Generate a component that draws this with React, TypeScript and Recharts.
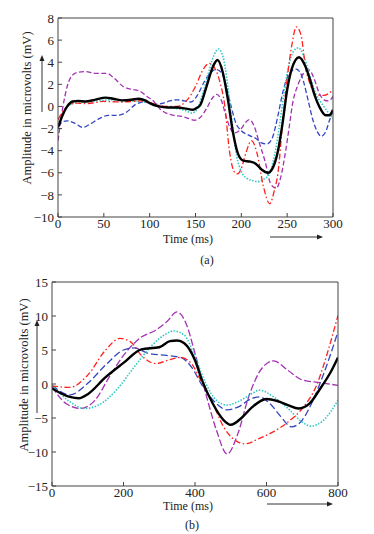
import { Line, LineChart, XAxis, YAxis } from "recharts";

// ---- panel (a): 0-300 ms ----
const aTicksX = [0, 50, 100, 150, 200, 250, 300];
const aTicksY = [-10, -8, -6, -4, -2, 0, 2, 4, 6, 8];

const aBlackT = [0, 5, 10, 16, 22, 30, 40, 52, 60, 70, 80, 88, 95, 100, 110, 120, 130, 140, 147, 150, 155, 162, 169, 174, 180, 185, 191, 196, 202, 210, 216, 222, 229, 234, 240, 245, 250, 255, 263, 270, 275, 280, 285, 292, 296, 300];
const aBlackV = [-1.9, -0.8, 0, 0.45, 0.5, 0.45, 0.6, 0.8, 0.7, 0.55, 0.6, 0.7, 0.55, 0.3, 0, -0.1, -0.1, -0.2, -0.3, -0.2, 0.1, 1.8, 3.6, 4.2, 3.0, 0.8, -2.4, -4.2, -4.9, -5.0, -5.2, -5.7, -6.0, -5.6, -4.0, -1.5, 1.5, 3.4, 4.45, 3.6, 2.4, 1.0, 0, -0.8, -0.8, -0.3];

const aRedT = [0, 5, 10, 20, 30, 50, 70, 90, 100, 110, 120, 130, 140, 150, 158, 165, 170, 176, 182, 187, 193, 196, 200, 205, 211, 217, 224, 231, 236, 240, 245, 250, 255, 260, 265, 270, 276, 282, 290, 300];
const aRedV = [-1.2, -0.5, 0, 0.3, 0.25, 0.45, 0.4, 0.5, 0.35, 0.1, 0, 0, 0.5, 1.8, 3.3, 3.9, 3.6, 2.4, 0, -4.0, -6.0, -6.1, -5.6, -4.2, -3.1, -4.2, -7.2, -8.8, -7.6, -6.0, -1.5, 2.5, 5.5, 7.2, 6.5, 3.6, 1.8, 1.05, 1.0, 1.5];

const aCyanT = [0, 5, 10, 20, 40, 60, 80, 100, 110, 120, 130, 140, 146, 152, 158, 164, 170, 175, 180, 185, 190, 195, 200, 206, 212, 218, 224, 230, 236, 242, 247, 252, 257, 262, 268, 274, 280, 290, 300];
const aCyanV = [-2, -0.8, 0, 0.35, 0.5, 0.6, 0.5, 0.3, 0, -0.1, -0.2, -0.4, -0.6, -0.2, 1.2, 3.0, 4.6, 5.2, 4.5, 2.0, -1.5, -4.5, -5.9, -6.5, -6.7, -6.8, -6.6, -6.2, -4.5, -1.5, 1.5, 3.8, 5.0, 5.3, 4.6, 3.0, 1.4, 0, -1.1];

const aBlueT = [0, 5, 10, 18, 27, 35, 45, 55, 65, 75, 85, 95, 105, 115, 122, 130, 138, 145, 152, 160, 166, 172, 178, 183, 188, 194, 200, 208, 216, 222, 228, 234, 240, 245, 250, 255, 259, 264, 268, 273, 278, 283, 287, 292, 296, 300];
const aBlueV = [-1.8, -1.4, -1.3, -1.5, -1.9, -1.6, -1.1, -0.8, -0.8, -0.5, 0.2, 0.4, 0.2, 0.3, 0.5, 0.6, 0.5, 0.4, 1.0, 2.3, 3.0, 3.35, 3.1, 2.0, 0.3, -1.5, -2.2, -2.6, -2.9, -3.3, -3.4, -2.8, -0.8, 1.2, 2.6, 3.2, 3.4, 3.1, 2.2, 0.5, -1.2, -2.3, -2.7, -2.3, -1.3, -0.4];

const aPurpleT = [0, 5, 10, 16, 22, 30, 40, 53, 62, 71, 80, 89, 97, 104, 111, 118, 126, 135, 143, 149, 155, 162, 168, 173, 178, 183, 188, 192, 200, 205, 209, 214, 220, 226, 232, 238, 243, 248, 252, 256, 262, 268, 274, 279, 285, 290, 295, 300];
const aPurpleV = [-3.1, -0.2, 1.8, 2.85, 3.1, 3.15, 3.0, 3.0, 2.5, 1.8, 1.55, 1.4, 0.9, 0.5, -0.2, -0.6, -0.8, -0.9, -1.1, -1.25, -1.0, -0.2, 0.7, 1.1, 0.6, -0.8, -2.0, -2.4, -2.0, -1.4, -1.2, -1.8, -3.4, -5.0, -7.0, -7.4, -6.4, -4.2, -2.0, 0.3, 2.0, 3.0, 3.3, 2.6, 1.2, 0.6, 0.5, 0.9];

// ---- panel (b): 0-800 ms ----
const bTicksX = [0, 200, 400, 600, 800];
const bTicksY = [-15, -10, -5, 0, 5, 10, 15];

const bBlackT = [0, 50, 75, 100, 150, 200, 250, 300, 330, 350, 370, 400, 420, 450, 480, 500, 530, 560, 600, 630, 660, 690, 720, 750, 780, 800];
const bBlackV = [-0.65, -1.9, -2.1, -1.5, 1.0, 3.1, 5.1, 5.4, 6.3, 6.4, 6.0, 3.5, 0.5, -2.9, -5.3, -6.0, -5.0, -3.4, -2.2, -2.5, -3.1, -3.6, -2.9, -0.7, 1.8, 3.9];

const bRedT = [0, 50, 100, 150, 190, 220, 250, 290, 330, 360, 390, 420, 450, 480, 510, 540, 580, 620, 660, 700, 740, 770, 800];
const bRedV = [-0.3, -0.5, 1.3, 5.0, 6.7, 6.2, 4.2, 3.0, 3.6, 3.9, 3.0, 0.1, -2.9, -6.3, -8.2, -8.8, -8.0, -7.0, -5.6, -3.6, -0.2, 4.5, 10.1];

const bBlueT = [0, 50, 100, 150, 200, 230, 270, 320, 360, 390, 420, 460, 490, 520, 560, 580, 610, 640, 670, 700, 730, 760, 800];
const bBlueV = [-0.2, -1.6, 0.1, 2.8, 5.0, 5.3, 4.5, 4.2, 3.9, 2.5, -0.2, -2.9, -3.8, -3.4, -2.1, -1.9, -2.9, -4.8, -6.3, -5.3, -2.4, 1.5, 7.7];

const bPurpleT = [0, 40, 80, 120, 160, 200, 250, 290, 320, 350, 375, 400, 430, 460, 490, 520, 550, 590, 620, 660, 700, 750, 800];
const bPurpleV = [-0.4, -2.9, -3.6, -2.4, 1.0, 4.2, 6.9, 7.9, 9.1, 10.6, 8.9, 4.5, -1.4, -6.8, -10.3, -7.3, -1.9, 2.5, 3.4, 2.0, 0.6, 0.2, -0.2];

const bCyanT = [0, 50, 90, 130, 180, 230, 280, 320, 340, 370, 400, 430, 460, 490, 520, 560, 580, 620, 660, 700, 725, 760, 800];
const bCyanV = [-0.2, -2.6, -3.6, -3.1, -0.9, 2.5, 5.7, 7.4, 7.8, 7.2, 4.0, 0.1, -2.4, -3.1, -2.6, -1.4, -0.9, -1.9, -3.6, -5.6, -6.2, -5.3, -2.4];

const toRows = (t: number[], v: number[]) => t.map((x, i) => ({ t: x, v: v[i] }));

const FONT = "Liberation Serif";
const AXIS = "#444";

const fmt = (v: number) => (v < 0 ? `\u2212${Math.abs(v)}` : String(v));

type SeriesDef = { t: number[]; v: number[]; color: string; dash?: string; width: number };

type Box = { left: number; top: number; right: number; bottom: number };

// plot box given in chart-local pixels; axes take fixed room around it
function Panel({
  series,
  ticksX,
  ticksY,
  domX,
  domY,
  width,
  height,
  box,
}: {
  series: SeriesDef[];
  ticksX: number[];
  ticksY: number[];
  domX: [number, number];
  domY: [number, number];
  width: number;
  height: number;
  box: Box;
}) {
  const tick = { fontFamily: FONT, fontSize: 13, fill: "#222" };
  const yw = 30;
  const xh = 20;
  const side = 5;
  const margin = {
    left: box.left - yw,
    top: box.top - side,
    right: width - box.right - side,
    bottom: height - box.bottom - xh,
  };
  return (
    <LineChart width={width} height={height} margin={margin}>
      <XAxis
        xAxisId="b"
        type="number"
        dataKey="t"
        domain={domX}
        ticks={ticksX}
        allowDataOverflow
        height={xh}
        tickSize={-4}
        tickMargin={6}
        tick={tick}
        stroke={AXIS}
        interval={0}
      />
      <XAxis
        xAxisId="t"
        orientation="top"
        type="number"
        dataKey="t"
        domain={domX}
        ticks={ticksX}
        allowDataOverflow
        height={side}
        tickSize={-4}
        tick={false}
        stroke={AXIS}
      />
      <YAxis
        yAxisId="l"
        type="number"
        domain={domY}
        ticks={ticksY}
        allowDataOverflow
        width={yw}
        tickSize={-4}
        tickMargin={8}
        tick={tick}
        tickFormatter={fmt}
        stroke={AXIS}
        interval={0}
      />
      <YAxis
        yAxisId="r"
        orientation="right"
        type="number"
        domain={domY}
        ticks={ticksY}
        allowDataOverflow
        width={side}
        tickSize={-4}
        tick={false}
        stroke={AXIS}
      />
      {series.map((s, i) => (
        <Line
          key={i}
          xAxisId="b"
          yAxisId="l"
          data={toRows(s.t, s.v)}
          dataKey="v"
          type="monotone"
          stroke={s.color}
          strokeWidth={s.width}
          strokeDasharray={s.dash}
          dot={false}
          isAnimationActive={false}
        />
      ))}
    </LineChart>
  );
}

const RED = "#ff2020";
const CYAN = "#35c9c4";
const BLUE = "#3446c2";
const PURPLE = "#a232b2";

const aSeries: SeriesDef[] = [
  { t: aPurpleT, v: aPurpleV, color: PURPLE, dash: "5 2.5", width: 1.3 },
  { t: aBlueT, v: aBlueV, color: BLUE, dash: "5 2.5", width: 1.3 },
  { t: aCyanT, v: aCyanV, color: CYAN, dash: "1.5 1.5", width: 1.6 },
  { t: aRedT, v: aRedV, color: RED, dash: "6 2.5 1.5 2.5", width: 1.3 },
  { t: aBlackT, v: aBlackV, color: "#000", width: 2.4 },
];

const bSeries: SeriesDef[] = [
  { t: bPurpleT, v: bPurpleV, color: PURPLE, dash: "7 2.5", width: 1.3 },
  { t: bBlueT, v: bBlueV, color: BLUE, dash: "7 3", width: 1.3 },
  { t: bCyanT, v: bCyanV, color: CYAN, dash: "1.5 1.5", width: 1.6 },
  { t: bRedT, v: bRedV, color: RED, dash: "6 2.5 1.5 2.5", width: 1.3 },
  { t: bBlackT, v: bBlackV, color: "#000", width: 2.4 },
];

function Arrow({ x1, y1, x2, y2 }: { x1: number; y1: number; x2: number; y2: number }) {
  const ang = Math.atan2(y2 - y1, x2 - x1);
  const L = 6;
  const W = 2.5;
  const bx = x2 - L * Math.cos(ang);
  const by = y2 - L * Math.sin(ang);
  const px = -Math.sin(ang) * W;
  const py = Math.cos(ang) * W;
  return (
    <g>
      <line x1={x1} y1={y1} x2={bx} y2={by} stroke="#333" strokeWidth={1} />
      <polygon points={`${x2},${y2} ${bx + px},${by + py} ${bx - px},${by - py}`} fill="#222" />
    </g>
  );
}

export default function App() {
  const txt = { fontFamily: FONT, fontSize: 12.5, fill: "#222" };
  const cap = { fontFamily: FONT, fontSize: 12, fill: "#222" };
  return (
    <div style={{ position: "absolute", left: 0, top: 0, width: 374, height: 534, background: "#fff" }}>
      <div style={{ position: "absolute", left: 0, top: 0 }}>
        <Panel
          series={aSeries}
          ticksX={aTicksX}
          ticksY={aTicksY}
          domX={[0, 300]}
          domY={[-10, 8]}
          width={374}
          height={270}
          box={{ left: 58, top: 18, right: 333, bottom: 217 }}
        />
      </div>
      <div style={{ position: "absolute", left: 0, top: 270 }}>
        <Panel
          series={bSeries}
          ticksX={bTicksX}
          ticksY={bTicksY}
          domX={[0, 800]}
          domY={[-15, 15]}
          width={374}
          height={264}
          box={{ left: 52, top: 12, right: 338, bottom: 216 }}
        />
      </div>
      <svg width={374} height={534} style={{ position: "absolute", left: 0, top: 0, pointerEvents: "none" }}>
        <text {...txt} x={27} y={108} textAnchor="middle" dominantBaseline="central" transform="rotate(-90 27 108)">
          Amplitude in microvolts (mV)
        </text>
        <text {...cap} x={188} y={243} textAnchor="middle">Time (ms)</text>
        <text {...cap} x={207} y={264} textAnchor="middle">(a)</text>
        <Arrow x1={270} y1={237} x2={323} y2={237} />
        <Arrow x1={42} y1={112} x2={42} y2={55} />

        <text {...txt} x={24} y={375} textAnchor="middle" dominantBaseline="central" transform="rotate(-90 24 375)">
          Amplitude in microvolts (mV)
        </text>
        <text {...cap} x={188} y={510} textAnchor="middle">Time (ms)</text>
        <text {...cap} x={192} y={529} textAnchor="middle">(b)</text>
        <Arrow x1={267} y1={504} x2={333} y2={504} />
        <Arrow x1={37} y1={413} x2={37} y2={320} />
      </svg>
    </div>
  );
}
